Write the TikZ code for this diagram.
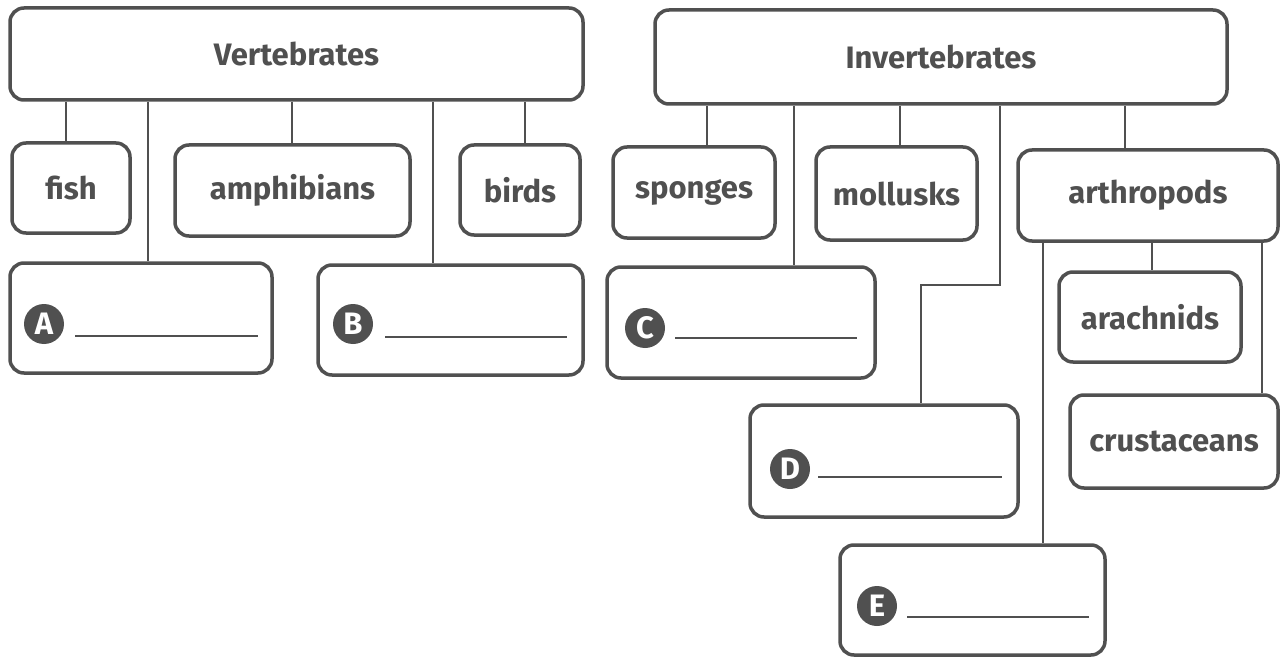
\documentclass[tikz,border=0pt]{standalone}
\usepackage{fontspec}
\setmainfont{Fira Sans}
\usetikzlibrary{calc}
\definecolor{ink}{HTML}{505050}
\tikzset{
  box/.style={draw=ink, line width=3.5pt, rounded corners=14pt, fill=white, inner sep=0pt,
    text=ink, font=\fontsize{31}{34}\selectfont\bfseries, align=center},
  conn/.style={draw=ink, line width=1.6pt},
  badge/.style={circle, fill=ink, text=white, inner sep=0pt, minimum size=40pt,
    font=\fontsize{31}{32}\selectfont\bfseries},
  blank/.style={draw=ink, line width=1.6pt}
}
\begin{document}
\begin{tikzpicture}[x=1pt,y=-1pt]
\useasboundingbox (0,0) rectangle (1280,658);
\fill[white] (0,0) rectangle (1280,658);
% boxes
\node[box, minimum width=573pt, minimum height=92pt] (vert) at (296.5,54) {Vertebrates};
\node[box, minimum width=118pt, minimum height=90pt] (fish) at (71,188) {fish};
\node[box, minimum width=235pt, minimum height=91pt] (amph) at (292.5,190.5) {amphibians};
\node[box, minimum width=120pt, minimum height=90pt] (birds) at (520,190) {birds};
\node[box, minimum width=262pt, minimum height=110pt] (A) at (141,318) {};
\node[box, minimum width=265pt, minimum height=110pt] (B) at (450.5,320) {};
\node[box, minimum width=572pt, minimum height=94pt] (invert) at (941,57) {Invertebrates};
\node[box, minimum width=162pt, minimum height=91pt] (sponges) at (694,192.5) {sponges};
\node[box, minimum width=161pt, minimum height=93pt] (mollusks) at (896.5,193.5) {mollusks};
\node[box, minimum width=260pt, minimum height=91pt] (arthro) at (1148,195.5) {arthropods};
\node[box, minimum width=182pt, minimum height=90pt] (arach) at (1150,317) {arachnids};
\node[box, minimum width=208pt, minimum height=93pt] (crust) at (1174,441.5) {crustaceans};
\node[box, minimum width=268pt, minimum height=111pt] (C) at (741,322.5) {};
\node[box, minimum width=268pt, minimum height=112pt] (D) at (884,461) {};
\node[box, minimum width=265pt, minimum height=110pt] (E) at (972.5,600) {};
% connectors
\draw[conn] (vert.south -| 66,0) -- (fish.north -| 66,0);
\draw[conn] (vert.south -| 148,0) -- (A.north -| 148,0);
\draw[conn] (vert.south -| 292,0) -- (amph.north -| 292,0);
\draw[conn] (vert.south -| 433,0) -- (B.north -| 433,0);
\draw[conn] (vert.south -| 525,0) -- (birds.north -| 525,0);
\draw[conn] (invert.south -| 707,0) -- (sponges.north -| 707,0);
\draw[conn] (invert.south -| 794,0) -- (C.north -| 794,0);
\draw[conn] (invert.south -| 900,0) -- (mollusks.north -| 900,0);
\coordinate (elbowR) at (1000,285);
\coordinate (elbowL) at (921,285);
\draw[conn] (invert.south -| elbowR) -- (elbowR) -- (elbowL) -- (D.north -| elbowL);
\draw[conn] (invert.south -| 1125,0) -- (arthro.north -| 1125,0);
\draw[conn] (arthro.south -| 1043,0) -- (E.north -| 1043,0);
\draw[conn] (arthro.south -| 1152,0) -- (arach.north -| 1152,0);
\draw[conn] (arthro.south -| 1262,0) -- (crust.north -| 1262,0);
% badges and blanks
\node[badge] (bA) at (44,324) {A};
\coordinate (lA1) at (75,336); \coordinate (lA2) at (258,336);
\draw[blank] (lA1) -- (lA2);
\node[badge] (bB) at (353,324) {B};
\coordinate (lB1) at (385,337); \coordinate (lB2) at (567,337);
\draw[blank] (lB1) -- (lB2);
\node[badge] (bC) at (645,328) {C};
\coordinate (lC1) at (675,338); \coordinate (lC2) at (857,338);
\draw[blank] (lC1) -- (lC2);
\node[badge] (bD) at (790,469) {D};
\coordinate (lD1) at (818,477); \coordinate (lD2) at (1002,477);
\draw[blank] (lD1) -- (lD2);
\node[badge] (bE) at (877,606) {E};
\coordinate (lE1) at (907,617); \coordinate (lE2) at (1089,617);
\draw[blank] (lE1) -- (lE2);
\end{tikzpicture}
\end{document}
